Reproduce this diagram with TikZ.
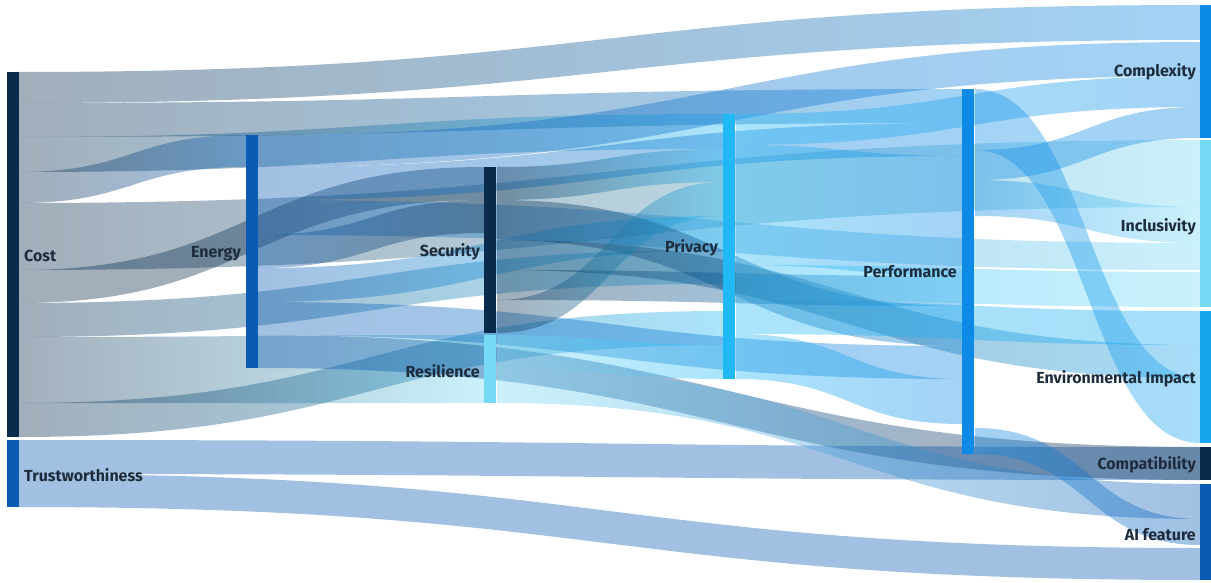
\documentclass[tikz,border=0pt]{standalone}
\usepackage{fontspec}
\setmainfont{Fira Sans}
\definecolor{navy}{HTML}{0A2C4C}
\definecolor{blueE}{HTML}{0A5BB3}
\definecolor{cyanL}{HTML}{74DAF6}
\definecolor{skyP}{HTML}{21B8F6}
\definecolor{blueP}{HTML}{0D8AE6}
\definecolor{envC}{HTML}{16A6EE}
\definecolor{labelC}{HTML}{1E2D3D}
% band from (x1; y1a..y1b) to (x2; y2a..y2b), shaded from colour A to colour B
\newcommand\flow[8]{%
  \pgfmathsetmacro\xm{(#1+#4)/2}%
  \shade[left color=#7, right color=#8, fill opacity=0.38]
    (#1,#2) .. controls (\xm,#2) and (\xm,#5) .. (#4,#5) -- (#4,#6)
    .. controls (\xm,#6) and (\xm,#3) .. (#1,#3) -- cycle;%
}
\tikzset{
  bar/.style={draw=none, inner sep=0pt, minimum width=12pt, anchor=north west},
  lab/.style={font=\fontsize{16}{16}\selectfont\bfseries, text=labelC, inner sep=0pt}
}
\begin{document}
\begin{tikzpicture}[x=1pt,y=-1pt]
\useasboundingbox (0,0) rectangle (1211,583);
% ---- flows from Cost
\flow{19}{72}{103}{1200}{5}{40}{navy}{blueP}
\flow{19}{103}{137}{962}{89}{123}{navy}{blueP}
\flow{19}{137}{172}{723}{114}{149}{navy}{skyP}
\flow{19}{172}{203}{246}{135}{167}{navy}{blueE}
\flow{19}{203}{270}{1200}{140}{207}{navy}{cyanL}
\flow{19}{270}{303}{484}{167}{200}{navy}{navy}
\flow{19}{303}{337}{723}{250}{284}{navy}{skyP}
\flow{19}{337}{403}{484}{335}{403}{navy}{cyanL}
\flow{19}{403}{437}{723}{311}{345}{navy}{skyP}
% ---- flows from Trustworthiness
\flow{19}{440}{474}{1200}{447}{480}{blueE}{blueE}
\flow{19}{474}{507}{1200}{548}{580}{blueE}{blueE}
% ---- flows from Energy
\flow{258}{135}{167}{1200}{42}{76}{blueE}{blueP}
\flow{258}{167}{200}{962}{123}{156}{blueE}{blueP}
\flow{258}{200}{235}{1200}{243}{270}{blueE}{cyanL}
\flow{258}{235}{268}{484}{200}{233}{blueE}{navy}
\flow{258}{268}{302}{723}{216}{250}{blueE}{skyP}
\flow{258}{302}{335}{962}{346}{379}{blueE}{blueP}
\flow{258}{335}{368}{1200}{447}{480}{blueE}{navy}
% ---- flows from Security
\flow{497}{167}{200}{723}{149}{182}{navy}{skyP}
\flow{497}{200}{240}{962}{306}{346}{navy}{blueP}
\flow{497}{240}{270}{1200}{345}{378}{navy}{envC}
\flow{497}{270}{300}{962}{276}{306}{navy}{blueP}
\flow{497}{300}{333}{723}{182}{216}{navy}{skyP}
% ---- flows from Resilience
\flow{497}{335}{368}{723}{345}{379}{cyanL}{skyP}
\flow{497}{368}{403}{1200}{484}{519}{cyanL}{blueE}
% ---- flows from Privacy
\flow{736}{114}{145}{1200}{76}{107}{skyP}{blueP}
\flow{736}{145}{265}{962}{156}{276}{skyP}{blueP}
\flow{736}{265}{300}{1200}{272}{307}{skyP}{cyanL}
\flow{736}{300}{334}{1200}{311}{345}{skyP}{envC}
\flow{736}{334}{379}{962}{379}{424}{skyP}{blueP}
% ---- flows from Performance
\flow{975}{89}{150}{1200}{378}{443}{blueP}{envC}
\flow{975}{150}{180}{1200}{107}{138}{blueP}{blueP}
\flow{975}{180}{216}{1200}{207}{243}{blueP}{cyanL}
\flow{975}{428}{454}{1200}{519}{545}{blueP}{blueE}
% ---- node bars
\node[bar, fill=navy,  minimum height=365pt] (cost)   at (7,72) {};
\node[bar, fill=blueE, minimum height=67pt]  (trust)  at (7,440) {};
\node[bar, fill=blueE, minimum height=233pt] (energy) at (246,135) {};
\node[bar, fill=navy,  minimum height=166pt] (secu)   at (484,167) {};
\node[bar, fill=cyanL, minimum height=68pt]  (resil)  at (484,335) {};
\node[bar, fill=skyP,  minimum height=265pt] (priv)   at (723,114) {};
\node[bar, fill=blueP, minimum height=365pt] (perf)   at (962,89) {};
\node[bar, fill=blueP, minimum height=133pt, minimum width=11pt] (cplx) at (1200,5) {};
\node[bar, fill=cyanL, minimum height=167pt, minimum width=11pt] (incl) at (1200,140) {};
\node[bar, fill=envC,  minimum height=132pt, minimum width=11pt] (envi) at (1200,311) {};
\node[bar, fill=navy,  minimum height=33pt,  minimum width=11pt] (comp) at (1200,447) {};
\node[bar, fill=blueE, minimum height=96pt,  minimum width=11pt] (aif)  at (1200,484) {};
% ---- labels
\node[lab, anchor=west] (lcost) at (24,256) {Cost};
\node[lab, anchor=west] (ltrust) at (24,475) {Trustworthiness};
\node[lab, anchor=east] (lenergy) at (241,254) {Energy};
\node[lab, anchor=east] (lsecu) at (480,252) {Security};
\node[lab, anchor=east] (lresil) at (480,371) {Resilience};
\node[lab, anchor=east] (lpriv) at (718,248) {Privacy};
\node[lab, anchor=east] (lperf) at (957,272) {Performance};
\node[lab, anchor=east] (lcplx) at (1196,72) {Complexity};
\node[lab, anchor=east] (lincl) at (1196,227) {Inclusivity};
\node[lab, anchor=east] (lenvi) at (1196,379) {Environmental Impact};
\node[lab, anchor=east] (lcomp) at (1196,465) {Compatibility};
\node[lab, anchor=east] (laif) at (1196,535) {AI feature};
\end{tikzpicture}
\end{document}
